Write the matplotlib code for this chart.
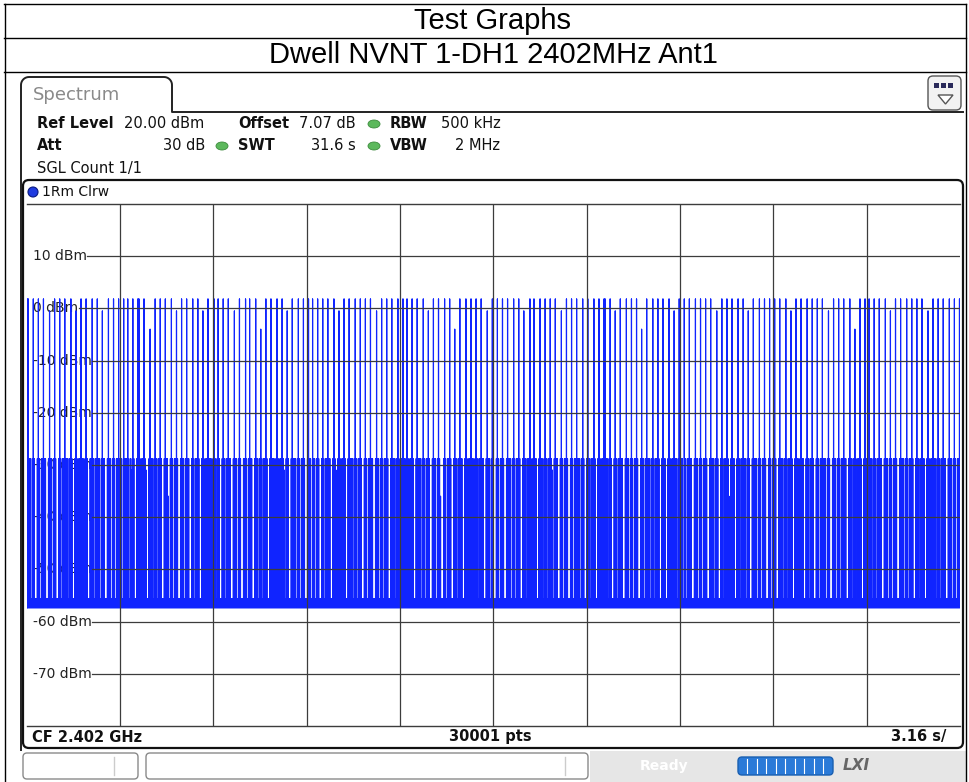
import numpy as np
import matplotlib.pyplot as plt
from matplotlib.patches import FancyBboxPatch, Rectangle, Ellipse, Circle, Polygon

# ---- data ----
SWEEP_TIME = 31.6          # s, 10 divisions of 3.16 s
REF_LEVEL = 20             # dBm, top of the grid
Y_TICKS = [10, 0, -10, -20, -30, -40, -50, -60, -70]

# trace, one character per screen column
# H/h/g = hop on channel (~2, -0.5, -4 dBm), M/m/n = adjacent channel level, . = noise floor
trace_cols = [
    "HHMM.M HM..M HM.MM HMM..M hMM.M HM..M HM.MM HMMM.M HM..M hM.MM HMM.M HM..MM HM.MM HMM.M hMM..M HMM.M HM.MM HMM",
    "M.HMMM HM.Mm HM..M HHM.MM HMm..M gMM.M HM.MM HM..M HMMn.M HM.MM hM..M HMM.M HMM..M HM.MM HM..M hM.MM HMMM.M HM.M",
    "HM..M HM.MM HMM..M hMM.M HM..MM HM.M HMM..M HMM.M gM.MM HM..M HMMM.M HM.MM HMm.M hM..M HMMM.M HM.MM HM..M HM",
    "M.HMM.M HM..M HM.MM HMM..M HMm.M hM.MM HM..M HMMM.M HM.MM HM..M HM.MM HMM..M hMM.M HM.MM HM..M HMMM.M HM.MM H",
    "MM.HM.MM HM..M HMMM.M HM.MM hM..M HMM.M HMn..M HM.MM HM..M gMM.M HMM..M HM.MM HMM.M HM.MM HMM..M hMM.M HM..M",
    "HM.MM HM..M HMMM.M HM.MM HM..M hMM.MM HM.M HMM..M HMM.M HM.MM HMm.M HMM..M hM.MM HM..M HM.MM HMMM.M HM..M HM",
    "M.MM HM..M HM.MM HHMM.M HM..M hM.MM HMM..M HMM.M HM.MM HM..M gMM.M HMMM.M HM.MM HM..M HMM..M HM.MM hMM.M HMM",
    "M.HM.MM HMM..M HMM.M HM.MM HM..M HMMM.M hM..M HM.MM HMn.M HMM..M HM.MM HMM.M hM..M HMMM.M HM.MM HM..M HM.MM",
    "HM..M HMMM.M HM.MM hM..M HMM.M HMM..M HM.MM HM..M HM.MM HMMM.M hM..M HMM.M HM.MM HMM..M HMM.M gM.MM HM..M HM",
    "M.HMM.M HM.MM HMM..M HMM.M hM.MM HM..M HMMM.M HM.MM HM..M HMM.M HMM..M hM.MM HMM.M HM.MM HMM..M HMM.M HM.MMH",
]
levels = {"H": 1.8, "h": -0.5, "g": -4.0, "M": -28.8, "m": -31.0, "n": -36.0}
floor_lo, floor_hi = -57.4, -55.6

W, H = 969, 782
fig = plt.figure(figsize=(W / 100, H / 100), dpi=100)
bg = fig.add_axes([0, 0, 1, 1])
bg.set_xlim(0, W)
bg.set_ylim(H, 0)
bg.axis("off")

# ---- title table ----
for yy in (4, 38, 72):
    bg.plot([4, 966], [yy, yy], color="black", lw=1)
bg.plot([5, 5], [4, H], color="black", lw=1)
bg.plot([966, 966], [4, H], color="black", lw=1)
bg.text(493, 21, "Test Graphs", ha="center", va="center", fontsize=21, family="Liberation Sans")
bg.text(493, 55, "Dwell NVNT 1-DH1 2402MHz Ant1", ha="center", va="center", fontsize=21,
        family="Liberation Sans")

# ---- instrument window ----
r = 8
a = np.linspace(np.pi, 1.5 * np.pi, 10)
tab_x = [21, 21] + list(21 + r + r * np.cos(a)) + list(172 - r - r * np.cos(a[::-1])) + [172, 963]
tab_y = [750, 77 + r] + list(77 + r + r * np.sin(a)) + list(77 + r + r * np.sin(a[::-1])) + [112, 112]
bg.plot(tab_x, tab_y, color="#222222", lw=1.4)
bg.text(33, 95, "Spectrum", va="center", fontsize=13, color="#8a8a8a")

# menu icon
bg.add_patch(FancyBboxPatch((928, 76), 33, 34, boxstyle="round,pad=0,rounding_size=5",
                            fc="#f2f2f2", ec="#555555", lw=1))
for k in range(3):
    bg.add_patch(Rectangle((934 + k * 7, 83), 5, 5, fc="#2a2a5a", ec="none"))
bg.add_patch(Polygon([(938, 95), (953, 95), (945.5, 104)], closed=True, fc="white", ec="#555555", lw=1))

# settings rows
def hdr(x, y, s, bold=False, ha="left"):
    bg.text(x, y, s, va="center", ha=ha, fontsize=10.5, color="#111111",
            fontweight="bold" if bold else "normal")

hdr(37, 124, "Ref Level", True)
hdr(124, 124, "20.00 dBm")
hdr(238, 124, "Offset", True)
hdr(299, 124, "7.07 dB")
hdr(390, 124, "RBW", True)
hdr(441, 124, "500 kHz")
hdr(37, 146, "Att", True)
hdr(205, 146, "30 dB", ha="right")
hdr(238, 146, "SWT", True)
hdr(311, 146, "31.6 s")
hdr(390, 146, "VBW", True)
hdr(500, 146, "2 MHz", ha="right")
hdr(37, 168, "SGL Count 1/1")
for gx, gy in [(374, 124), (222, 146), (374, 146)]:
    bg.add_patch(Ellipse((gx, gy), 12, 8, fc="#5cb85c", ec="#3d8b3d", lw=0.6))

# diagram box
bg.add_patch(FancyBboxPatch((23, 180), 940, 568, boxstyle="round,pad=0,rounding_size=6",
                            fc="none", ec="#111111", lw=1.6))
bg.add_patch(Circle((33, 192), 5, fc="#1f3be0", ec="#0a1a80", lw=0.8))
bg.text(42, 192, "1Rm Clrw", va="center", fontsize=10, color="#111111")
bg.text(32, 737, "CF 2.402 GHz", va="center", fontsize=10.5, fontweight="bold", color="#111111")
bg.text(490, 737, "30001 pts", va="center", ha="center", fontsize=10.5, fontweight="bold", color="#111111")
bg.text(946, 737, "3.16 s/", va="center", ha="right", fontsize=10.5, fontweight="bold", color="#111111")

# status bar
bg.add_patch(Rectangle((590, 751), 376, 31, fc="#e6e6e6", ec="none"))
bg.add_patch(FancyBboxPatch((23, 753), 115, 26, boxstyle="round,pad=0,rounding_size=4",
                            fc="white", ec="#8a8a8a", lw=1))
bg.plot([114, 114], [757, 775], color="#cccccc", lw=1)
bg.add_patch(FancyBboxPatch((146, 753), 442, 26, boxstyle="round,pad=0,rounding_size=4",
                            fc="white", ec="#8a8a8a", lw=1))
bg.plot([565, 565], [757, 775], color="#cccccc", lw=1)
bg.text(664, 766, "Ready", ha="center", va="center", fontsize=10, fontweight="bold", color="white")
bg.add_patch(FancyBboxPatch((738, 757), 95, 18, boxstyle="round,pad=0,rounding_size=4",
                            fc="#2a7ad8", ec="#1a5fb0", lw=1))
for k in range(1, 10):
    bg.plot([738 + k * 9.5, 738 + k * 9.5], [759, 773], color="white", lw=0.8)
bg.text(856, 766, "LXI", ha="center", va="center", fontsize=11, fontweight="bold",
        style="italic", color="#666666")

# ---- trace area ----
x0, x1, y0, y1 = 26.7, 960.0, 204.0, 726.0
ax = fig.add_axes([x0 / W, 1 - y1 / H, (x1 - x0) / W, (y1 - y0) / H])
ax.set_xlim(0, SWEEP_TIME)
ax.set_ylim(REF_LEVEL - 100, REF_LEVEL)
ax.axis("off")

cols = "".join(trace_cols).replace(" ", "")
n = len(cols)
t = (np.arange(n) + 0.5) * SWEEP_TIME / n
peak = np.array([levels.get(c, floor_hi) for c in cols])
xs = np.repeat(t, 3)
ys = np.column_stack([np.full(n, floor_lo), peak, np.full(n, floor_hi)]).ravel()
ax.plot(xs, ys, color="#1024ff", lw=0.85, zorder=2)

grid_c = "#3c3c3c"
for k in range(1, 10):
    ax.plot([k * SWEEP_TIME / 10] * 2, [-80, 20], color=grid_c, lw=0.9, zorder=3)
for yy in (20, -80):
    ax.plot([0, SWEEP_TIME], [yy, yy], color=grid_c, lw=1.0, zorder=3, clip_on=False)

labels = []
for v in Y_TICKS:
    labels.append(ax.text(0.21, v, f"{v} dBm", va="center", ha="left", fontsize=10,
                          color="#222222", zorder=1))
fig.canvas.draw()
inv = ax.transData.inverted()
for v, lab in zip(Y_TICKS, labels):
    right = inv.transform(lab.get_window_extent().get_points())[1, 0]
    ax.plot([right + 0.02, SWEEP_TIME], [v, v], color=grid_c, lw=0.9, zorder=3)

fig.savefig("out.png", dpi=100)
